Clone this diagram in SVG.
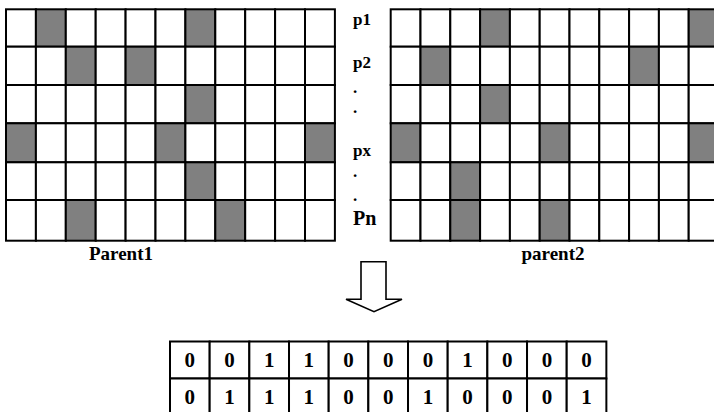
<svg xmlns="http://www.w3.org/2000/svg" width="714" height="412" viewBox="0 0 714 412">
<style>
.bg{fill:#ffffff}
.cell{fill:#ffffff;stroke:#000000;stroke-width:2}
.on{fill:#808080;stroke:#000000;stroke-width:2}
.arrow{fill:#ffffff;stroke:#000000;stroke-width:1.6;stroke-linejoin:miter}
</style>
<rect class="bg" x="0" y="0" width="714" height="412"/>

<g id="parent1">
<g transform="translate(6,9.3)">
<rect class="cell" x="0" y="0" width="29.9" height="37.4"/><rect class="on" x="29.9" y="0" width="29.9" height="37.4"/><rect class="cell" x="59.8" y="0" width="29.9" height="37.4"/><rect class="cell" x="89.7" y="0" width="29.9" height="37.4"/><rect class="cell" x="119.6" y="0" width="29.9" height="37.4"/><rect class="cell" x="149.5" y="0" width="29.9" height="37.4"/><rect class="on" x="179.4" y="0" width="29.9" height="37.4"/><rect class="cell" x="209.3" y="0" width="29.9" height="37.4"/><rect class="cell" x="239.2" y="0" width="29.9" height="37.4"/><rect class="cell" x="269.1" y="0" width="29.9" height="37.4"/><rect class="cell" x="299" y="0" width="29.9" height="37.4"/>
</g>
<g transform="translate(6,46.7)">
<rect class="cell" x="0" y="0" width="29.9" height="38.3"/><rect class="cell" x="29.9" y="0" width="29.9" height="38.3"/><rect class="on" x="59.8" y="0" width="29.9" height="38.3"/><rect class="cell" x="89.7" y="0" width="29.9" height="38.3"/><rect class="on" x="119.6" y="0" width="29.9" height="38.3"/><rect class="cell" x="149.5" y="0" width="29.9" height="38.3"/><rect class="cell" x="179.4" y="0" width="29.9" height="38.3"/><rect class="cell" x="209.3" y="0" width="29.9" height="38.3"/><rect class="cell" x="239.2" y="0" width="29.9" height="38.3"/><rect class="cell" x="269.1" y="0" width="29.9" height="38.3"/><rect class="cell" x="299" y="0" width="29.9" height="38.3"/>
</g>
<g transform="translate(6,85)">
<rect class="cell" x="0" y="0" width="29.9" height="38.3"/><rect class="cell" x="29.9" y="0" width="29.9" height="38.3"/><rect class="cell" x="59.8" y="0" width="29.9" height="38.3"/><rect class="cell" x="89.7" y="0" width="29.9" height="38.3"/><rect class="cell" x="119.6" y="0" width="29.9" height="38.3"/><rect class="cell" x="149.5" y="0" width="29.9" height="38.3"/><rect class="on" x="179.4" y="0" width="29.9" height="38.3"/><rect class="cell" x="209.3" y="0" width="29.9" height="38.3"/><rect class="cell" x="239.2" y="0" width="29.9" height="38.3"/><rect class="cell" x="269.1" y="0" width="29.9" height="38.3"/><rect class="cell" x="299" y="0" width="29.9" height="38.3"/>
</g>
<g transform="translate(6,123.3)">
<rect class="on" x="0" y="0" width="29.9" height="39"/><rect class="cell" x="29.9" y="0" width="29.9" height="39"/><rect class="cell" x="59.8" y="0" width="29.9" height="39"/><rect class="cell" x="89.7" y="0" width="29.9" height="39"/><rect class="cell" x="119.6" y="0" width="29.9" height="39"/><rect class="on" x="149.5" y="0" width="29.9" height="39"/><rect class="cell" x="179.4" y="0" width="29.9" height="39"/><rect class="cell" x="209.3" y="0" width="29.9" height="39"/><rect class="cell" x="239.2" y="0" width="29.9" height="39"/><rect class="cell" x="269.1" y="0" width="29.9" height="39"/><rect class="on" x="299" y="0" width="29.9" height="39"/>
</g>
<g transform="translate(6,162.3)">
<rect class="cell" x="0" y="0" width="29.9" height="37.7"/><rect class="cell" x="29.9" y="0" width="29.9" height="37.7"/><rect class="cell" x="59.8" y="0" width="29.9" height="37.7"/><rect class="cell" x="89.7" y="0" width="29.9" height="37.7"/><rect class="cell" x="119.6" y="0" width="29.9" height="37.7"/><rect class="cell" x="149.5" y="0" width="29.9" height="37.7"/><rect class="on" x="179.4" y="0" width="29.9" height="37.7"/><rect class="cell" x="209.3" y="0" width="29.9" height="37.7"/><rect class="cell" x="239.2" y="0" width="29.9" height="37.7"/><rect class="cell" x="269.1" y="0" width="29.9" height="37.7"/><rect class="cell" x="299" y="0" width="29.9" height="37.7"/>
</g>
<g transform="translate(6,200)">
<rect class="cell" x="0" y="0" width="29.9" height="40.7"/><rect class="cell" x="29.9" y="0" width="29.9" height="40.7"/><rect class="on" x="59.8" y="0" width="29.9" height="40.7"/><rect class="cell" x="89.7" y="0" width="29.9" height="40.7"/><rect class="cell" x="119.6" y="0" width="29.9" height="40.7"/><rect class="cell" x="149.5" y="0" width="29.9" height="40.7"/><rect class="cell" x="179.4" y="0" width="29.9" height="40.7"/><rect class="on" x="209.3" y="0" width="29.9" height="40.7"/><rect class="cell" x="239.2" y="0" width="29.9" height="40.7"/><rect class="cell" x="269.1" y="0" width="29.9" height="40.7"/><rect class="cell" x="299" y="0" width="29.9" height="40.7"/>
</g>
<text x="121" y="260" font-family="Liberation Serif, Times New Roman, serif" font-weight="bold" font-size="19" text-anchor="middle" fill="#000">Parent1</text>
</g>

<g id="parent2">
<g transform="translate(390.7,9.3)">
<rect class="cell" x="0" y="0" width="29.8" height="37.4"/><rect class="cell" x="29.8" y="0" width="29.8" height="37.4"/><rect class="cell" x="59.6" y="0" width="29.8" height="37.4"/><rect class="on" x="89.4" y="0" width="29.8" height="37.4"/><rect class="cell" x="119.2" y="0" width="29.8" height="37.4"/><rect class="cell" x="149" y="0" width="29.8" height="37.4"/><rect class="cell" x="178.8" y="0" width="29.8" height="37.4"/><rect class="cell" x="208.6" y="0" width="29.8" height="37.4"/><rect class="cell" x="238.4" y="0" width="29.8" height="37.4"/><rect class="cell" x="268.2" y="0" width="29.8" height="37.4"/><rect class="on" x="298" y="0" width="29.8" height="37.4"/>
</g>
<g transform="translate(390.7,46.7)">
<rect class="cell" x="0" y="0" width="29.8" height="38.3"/><rect class="on" x="29.8" y="0" width="29.8" height="38.3"/><rect class="cell" x="59.6" y="0" width="29.8" height="38.3"/><rect class="cell" x="89.4" y="0" width="29.8" height="38.3"/><rect class="cell" x="119.2" y="0" width="29.8" height="38.3"/><rect class="cell" x="149" y="0" width="29.8" height="38.3"/><rect class="cell" x="178.8" y="0" width="29.8" height="38.3"/><rect class="cell" x="208.6" y="0" width="29.8" height="38.3"/><rect class="on" x="238.4" y="0" width="29.8" height="38.3"/><rect class="cell" x="268.2" y="0" width="29.8" height="38.3"/><rect class="cell" x="298" y="0" width="29.8" height="38.3"/>
</g>
<g transform="translate(390.7,85)">
<rect class="cell" x="0" y="0" width="29.8" height="38.3"/><rect class="cell" x="29.8" y="0" width="29.8" height="38.3"/><rect class="cell" x="59.6" y="0" width="29.8" height="38.3"/><rect class="on" x="89.4" y="0" width="29.8" height="38.3"/><rect class="cell" x="119.2" y="0" width="29.8" height="38.3"/><rect class="cell" x="149" y="0" width="29.8" height="38.3"/><rect class="cell" x="178.8" y="0" width="29.8" height="38.3"/><rect class="cell" x="208.6" y="0" width="29.8" height="38.3"/><rect class="cell" x="238.4" y="0" width="29.8" height="38.3"/><rect class="cell" x="268.2" y="0" width="29.8" height="38.3"/><rect class="cell" x="298" y="0" width="29.8" height="38.3"/>
</g>
<g transform="translate(390.7,123.3)">
<rect class="on" x="0" y="0" width="29.8" height="39"/><rect class="cell" x="29.8" y="0" width="29.8" height="39"/><rect class="cell" x="59.6" y="0" width="29.8" height="39"/><rect class="cell" x="89.4" y="0" width="29.8" height="39"/><rect class="cell" x="119.2" y="0" width="29.8" height="39"/><rect class="on" x="149" y="0" width="29.8" height="39"/><rect class="cell" x="178.8" y="0" width="29.8" height="39"/><rect class="cell" x="208.6" y="0" width="29.8" height="39"/><rect class="cell" x="238.4" y="0" width="29.8" height="39"/><rect class="cell" x="268.2" y="0" width="29.8" height="39"/><rect class="on" x="298" y="0" width="29.8" height="39"/>
</g>
<g transform="translate(390.7,162.3)">
<rect class="cell" x="0" y="0" width="29.8" height="37.7"/><rect class="cell" x="29.8" y="0" width="29.8" height="37.7"/><rect class="on" x="59.6" y="0" width="29.8" height="37.7"/><rect class="cell" x="89.4" y="0" width="29.8" height="37.7"/><rect class="cell" x="119.2" y="0" width="29.8" height="37.7"/><rect class="cell" x="149" y="0" width="29.8" height="37.7"/><rect class="cell" x="178.8" y="0" width="29.8" height="37.7"/><rect class="cell" x="208.6" y="0" width="29.8" height="37.7"/><rect class="cell" x="238.4" y="0" width="29.8" height="37.7"/><rect class="cell" x="268.2" y="0" width="29.8" height="37.7"/><rect class="cell" x="298" y="0" width="29.8" height="37.7"/>
</g>
<g transform="translate(390.7,200)">
<rect class="cell" x="0" y="0" width="29.8" height="40.7"/><rect class="cell" x="29.8" y="0" width="29.8" height="40.7"/><rect class="on" x="59.6" y="0" width="29.8" height="40.7"/><rect class="cell" x="89.4" y="0" width="29.8" height="40.7"/><rect class="cell" x="119.2" y="0" width="29.8" height="40.7"/><rect class="on" x="149" y="0" width="29.8" height="40.7"/><rect class="cell" x="178.8" y="0" width="29.8" height="40.7"/><rect class="cell" x="208.6" y="0" width="29.8" height="40.7"/><rect class="cell" x="238.4" y="0" width="29.8" height="40.7"/><rect class="cell" x="268.2" y="0" width="29.8" height="40.7"/><rect class="cell" x="298" y="0" width="29.8" height="40.7"/>
</g>
<text x="553" y="260" font-family="Liberation Serif, Times New Roman, serif" font-weight="bold" font-size="19" text-anchor="middle" fill="#000">parent2</text>
</g>

<g id="row-labels" font-family="Liberation Serif, Times New Roman, serif" font-weight="bold" font-size="17" fill="#000">
<text x="353" y="25">p1</text>
<text x="353" y="68">p2</text>
<text x="353" y="93">.</text>
<text x="353" y="113">.</text>
<text x="353" y="156">px</text>
<text x="353" y="177">.</text>
<text x="353" y="201">.</text>
<text x="353" y="225" font-size="20">Pn</text>
</g>

<g id="connectors">
<polygon class="arrow" points="361,261.7 386,261.7 386,299.3 402,299.3 374,311.7 346,299.3 361,299.3"/>
</g>

<g id="offspring">
<g transform="translate(170,341.5)">
<rect class="cell" x="0" y="0" width="39.67" height="37"/><rect class="cell" x="39.67" y="0" width="39.67" height="37"/><rect class="cell" x="79.34" y="0" width="39.67" height="37"/><rect class="cell" x="119.01" y="0" width="39.67" height="37"/><rect class="cell" x="158.68" y="0" width="39.67" height="37"/><rect class="cell" x="198.35" y="0" width="39.67" height="37"/><rect class="cell" x="238.02" y="0" width="39.67" height="37"/><rect class="cell" x="277.69" y="0" width="39.67" height="37"/><rect class="cell" x="317.36" y="0" width="39.67" height="37"/><rect class="cell" x="357.03" y="0" width="39.67" height="37"/><rect class="cell" x="396.7" y="0" width="39.67" height="37"/>
<rect class="cell" x="0" y="37" width="39.67" height="40"/><rect class="cell" x="39.67" y="37" width="39.67" height="40"/><rect class="cell" x="79.34" y="37" width="39.67" height="40"/><rect class="cell" x="119.01" y="37" width="39.67" height="40"/><rect class="cell" x="158.68" y="37" width="39.67" height="40"/><rect class="cell" x="198.35" y="37" width="39.67" height="40"/><rect class="cell" x="238.02" y="37" width="39.67" height="40"/><rect class="cell" x="277.69" y="37" width="39.67" height="40"/><rect class="cell" x="317.36" y="37" width="39.67" height="40"/><rect class="cell" x="357.03" y="37" width="39.67" height="40"/><rect class="cell" x="396.7" y="37" width="39.67" height="40"/>
<g font-family="Liberation Serif, Times New Roman, serif" font-weight="bold" font-size="21" text-anchor="middle" fill="#000">
<text x="19.8" y="25">0</text><text x="59.5" y="25">0</text><text x="99.2" y="25">1</text><text x="138.8" y="25">1</text><text x="178.5" y="25">0</text><text x="218.2" y="25">0</text><text x="257.9" y="25">0</text><text x="297.5" y="25">1</text><text x="337.2" y="25">0</text><text x="376.9" y="25">0</text><text x="416.5" y="25">0</text>
<text x="19.8" y="62">0</text><text x="59.5" y="62">1</text><text x="99.2" y="62">1</text><text x="138.8" y="62">1</text><text x="178.5" y="62">0</text><text x="218.2" y="62">0</text><text x="257.9" y="62">1</text><text x="297.5" y="62">0</text><text x="337.2" y="62">0</text><text x="376.9" y="62">0</text><text x="416.5" y="62">1</text>
</g>
</g>
</g>
</svg>
